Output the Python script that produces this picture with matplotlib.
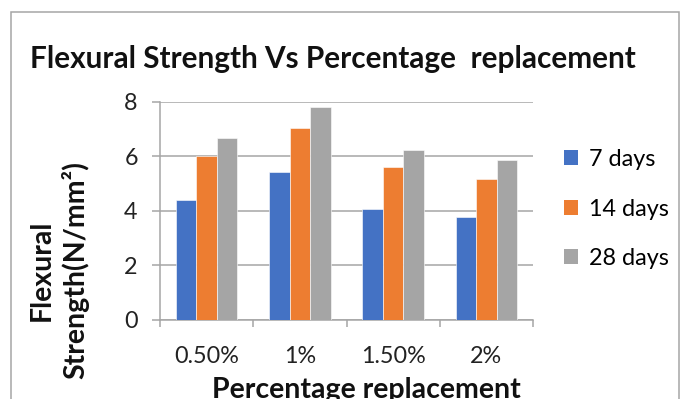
import matplotlib
matplotlib.use("Agg")
import matplotlib.pyplot as plt
import numpy as np
from matplotlib.patches import Rectangle, Patch

categories = ["0.50%", "1%", "1.50%", "2%"]
series_names = ["7 days", "14 days", "28 days"]
days7 = [4.38, 5.41, 4.05, 3.78]
days14 = [6.01, 7.04, 5.60, 5.17]
days28 = [6.68, 7.82, 6.22, 5.88]
yticks = [0, 2, 4, 6, 8]
colors = ["#4472C4", "#ED7D31", "#A5A5A5"]

plt.rcParams['font.family'] = ['Lato', 'DejaVu Sans']

W, H = 684, 399
fig = plt.figure(figsize=(W / 100, H / 100), dpi=100)
fig.patch.set_facecolor("white")

# chart border
fig.patches.append(Rectangle((11 / W, -0.1), (679 - 11) / W, 1.1 - 12 / H,
                             transform=fig.transFigure, fill=False,
                             edgecolor="#a6a6a6", linewidth=1.1, zorder=0))

ax = fig.add_axes([160 / W, (H - 320) / H, (533 - 160) / W, (320 - 101.7) / H])
x = np.arange(len(categories))
bw = 0.22
for i, (vals, name) in enumerate(zip([days7, days14, days28], series_names)):
    ax.bar(x + (i - 1) * bw, vals, bw, color=colors[i], label=name, zorder=3,
           edgecolor="white", linewidth=0.4)

ax.set_xlim(-0.5, 3.5)
ax.set_ylim(0, 8)
ax.set_yticks(yticks)
ax.set_yticklabels([str(t) for t in yticks], fontsize=16.8, color="#222222")
ax.set_xticks(x)
ax.set_xticklabels(categories, fontsize=16.8, color="#222222")
ax.set_xticks(np.arange(-0.5, 4.0, 1.0), minor=True)
ax.tick_params(axis='x', which='major', length=0, pad=19)
ax.tick_params(axis='x', which='minor', length=5, width=1.1, color="#a6a6a6", direction='out')
ax.tick_params(axis='y', length=6, width=1.1, color="#a6a6a6", pad=10)

ax.grid(axis='y', color="#a6a6a6", linewidth=1.1, zorder=0)
for s in ['top', 'right']:
    ax.spines[s].set_visible(False)
for s in ['left', 'bottom']:
    ax.spines[s].set_color("#a6a6a6")
    ax.spines[s].set_linewidth(1.1)

fig.text(333 / W, 1 - 68 / H, "Flexural Strength Vs Percentage  replacement",
         ha='center', va='baseline', fontsize=21.4, fontweight='bold', color="#111111")

fig.text(59 / W, 1 - 270 / H, "Flexural\nStrength(N/mm²)", rotation=90,
         ha='center', va='center', multialignment='center', fontsize=20.5,
         fontweight='bold', color="#111111", linespacing=1.25)

fig.text(366 / W, 1 - 398 / H, "Percentage replacement", ha='center', va='baseline',
         fontsize=20.5, fontweight='bold', color="#111111")

handles = [Patch(facecolor=c, edgecolor='none') for c in colors]
fig.legend(handles, series_names, loc='center left', bbox_to_anchor=(543 / W, 1 - 209 / H),
           frameon=False, fontsize=16.8, handlelength=0.62, handleheight=0.62,
           handletextpad=0.45, labelspacing=1.22)

fig.savefig("out.png", dpi=100, facecolor="white")
